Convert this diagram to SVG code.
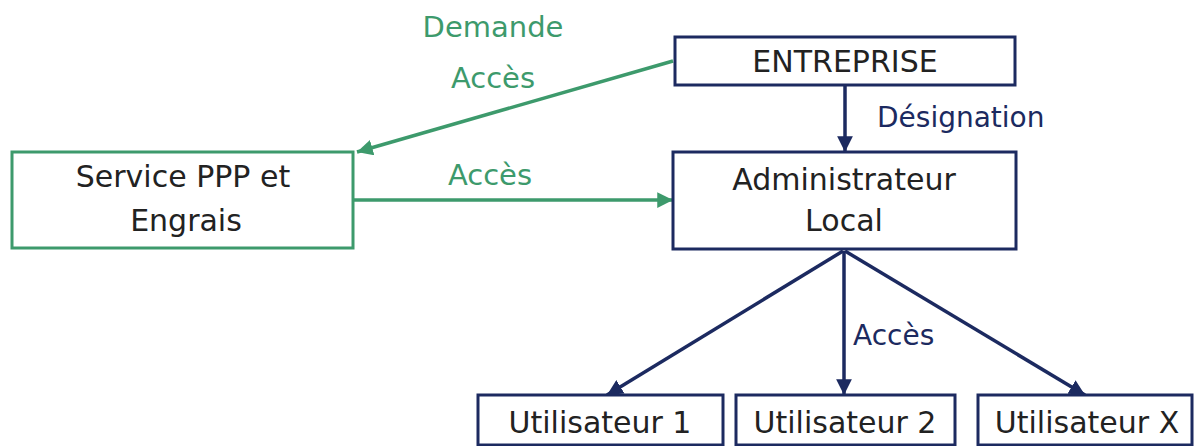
<svg xmlns="http://www.w3.org/2000/svg" width="1200" height="446" viewBox="0 0 1200 446">
<style>
.box{fill:#fff;stroke-width:3}
.g{stroke:#3d9a6c}
.b{stroke:#1c2a60}
.t{font-family:"DejaVu Sans",sans-serif;font-size:30px;fill:#222;text-anchor:middle}
.lg{font-family:"DejaVu Sans",sans-serif;font-size:29px;fill:#3d9a6c;text-anchor:middle}
.lb{font-family:"DejaVu Sans",sans-serif;font-size:28px;fill:#1c2a60}
.cg{stroke:#3d9a6c;stroke-width:3.5;fill:none}
.cb{stroke:#1c2a60;stroke-width:3.5;fill:none}
</style>
<defs>
<marker id="ag" viewBox="0 0 10 10" refX="10" refY="5" markerWidth="4.5" markerHeight="4.5" markerUnits="strokeWidth" orient="auto"><path d="M0,0 L10,5 L0,10 z" fill="#3d9a6c"/></marker>
<marker id="ab" viewBox="0 0 10 10" refX="10" refY="5" markerWidth="4.5" markerHeight="4.5" markerUnits="strokeWidth" orient="auto"><path d="M0,0 L10,5 L0,10 z" fill="#1c2a60"/></marker>
</defs>
<g id="connectors">
<line class="cg" x1="673" y1="61" x2="357" y2="152" marker-end="url(#ag)"/>
<line class="cg" x1="353" y1="200" x2="673" y2="200" marker-end="url(#ag)"/>
<line class="cb" x1="845" y1="85" x2="845" y2="152" marker-end="url(#ab)"/>
<line class="cb" x1="843" y1="251" x2="607" y2="395" marker-end="url(#ab)"/>
<line class="cb" x1="844" y1="251" x2="844" y2="395" marker-end="url(#ab)"/>
<line class="cb" x1="845" y1="251" x2="1085" y2="395" marker-end="url(#ab)"/>
<text class="lg" x="493" y="37">Demande</text>
<text class="lg" x="493" y="88">Accès</text>
<text class="lg" x="490" y="185">Accès</text>
<text class="lb" x="877" y="127">Désignation</text>
<text class="lb" x="853" y="345">Accès</text>
</g>
<g id="entreprise"><rect class="box b" x="675" y="37" width="340" height="48"/><text class="t" x="845" y="72">ENTREPRISE</text></g>
<g id="admin"><rect class="box b" x="673" y="152" width="343" height="97"/><text class="t" x="844" y="190">Administrateur</text><text class="t" x="844" y="231">Local</text></g>
<g id="service"><rect class="box g" x="12" y="152" width="341" height="96"/><text class="t" x="183" y="187">Service PPP et</text><text class="t" x="186" y="231">Engrais</text></g>
<g id="util1"><rect class="box b" x="478" y="395" width="245" height="50"/><text class="t" x="600" y="433">Utilisateur 1</text></g>
<g id="util2"><rect class="box b" x="736" y="395" width="219" height="50"/><text class="t" x="845" y="433">Utilisateur 2</text></g>
<g id="utilx"><rect class="box b" x="978" y="395" width="214" height="50"/><text class="t" x="1087" y="433">Utilisateur X</text></g>
</svg>
